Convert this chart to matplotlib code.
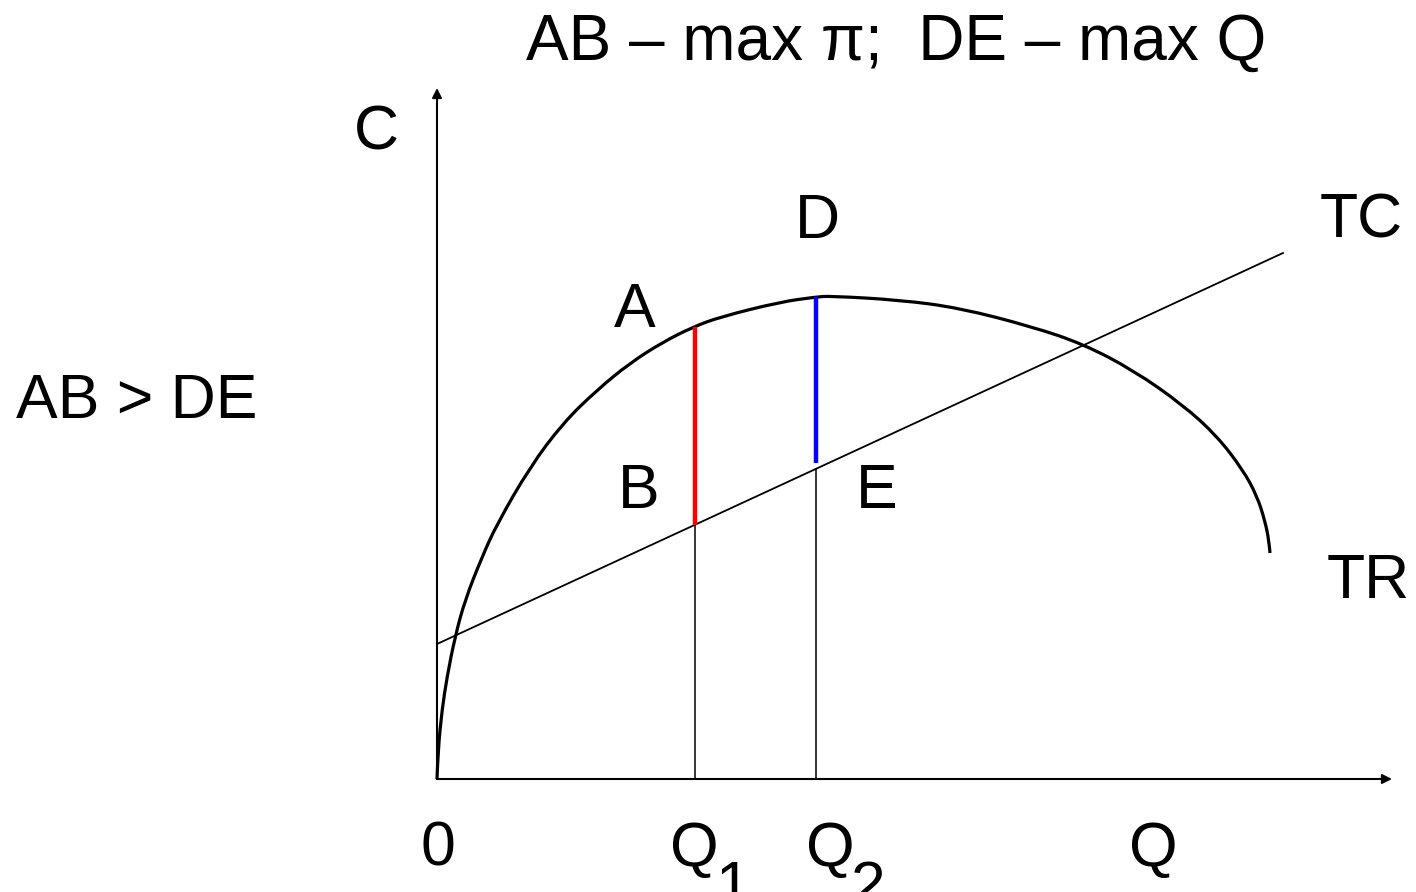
import matplotlib.pyplot as plt
from matplotlib.path import Path
from matplotlib.patches import PathPatch

plt.rcParams['font.family'] = ['Liberation Sans', 'DejaVu Sans']

# TR curve (Q, TR)
tr_q = [0, 1, 5, 10, 18, 28, 45, 60, 93, 126, 160, 193, 226, 256, 283, 343, 379, 393,
        463, 523, 596, 646, 696, 746, 780, 806, 820, 828, 832, 833]
tr_c = [0, 28, 69, 102, 142, 179, 222, 255, 312, 356, 389, 416, 437, 452, 462, 477, 482, 483,
        479, 471, 452, 435, 409, 374, 343, 309, 283, 258, 238, 226]

# TC straight line
tc_q = [0, 846]
tc_c = [135, 526]

q1, q2 = 258, 379
a_val, b_val = 452, 254      # AB segment at Q1
d_val, e_val = 482, 316      # DE segment at Q2
tc_q2 = 310

fig = plt.figure(figsize=(14.16, 8.92), dpi=100)
ax = fig.add_axes([0, 0, 1, 1])
ax.set_xlim(-437, 979)
ax.set_ylim(-113, 779)
ax.axis('off')

# axes with arrows
ax.annotate('', xy=(0, 691), xytext=(0, 0),
            arrowprops=dict(arrowstyle='-|>', color='black', lw=1.5, mutation_scale=14,
                            shrinkA=0, shrinkB=0))
ax.annotate('', xy=(955, 0), xytext=(0, 0),
            arrowprops=dict(arrowstyle='-|>', color='black', lw=1.5, mutation_scale=14,
                            shrinkA=0, shrinkB=0))

ax.plot(tc_q, tc_c, color='black', lw=1.3)

# smooth TR through the read points (quadratic segments between midpoints)
pts = list(zip(tr_q, tr_c))
verts = [pts[0]]
codes = [Path.MOVETO]
for i in range(1, len(pts) - 2):
    mid = ((pts[i][0] + pts[i + 1][0]) / 2, (pts[i][1] + pts[i + 1][1]) / 2)
    verts += [pts[i], mid]
    codes += [Path.CURVE3, Path.CURVE3]
verts += [pts[-2], pts[-1]]
codes += [Path.CURVE3, Path.CURVE3]
ax.add_patch(PathPatch(Path(verts, codes), facecolor='none', edgecolor='black', lw=2.3,
                       capstyle='butt'))

# drop lines
ax.plot([q1, q1], [0, b_val], color='black', lw=1.1)
ax.plot([q2, q2], [0, tc_q2], color='black', lw=1.1)

ax.plot([q1, q1], [b_val, a_val], color='red', lw=3.2, solid_capstyle='butt')
ax.plot([q2, q2], [e_val, d_val], color='blue', lw=3.2, solid_capstyle='butt')

fs = 45
def lab(x, y, s, size=fs):
    ax.text(x, y, s, fontsize=size, ha='center', va='baseline')

lab(459, 719, 'AB – max π;  DE – max Q', 46)
lab(-61, 629, 'C')
lab(380, 541, 'D')
lab(924, 541, 'TC')
lab(198, 452, 'A')
lab(-300, 361, 'AB > DE')
lab(202, 271, 'B')
lab(440, 271, 'E')
lab(931, 181, 'TR')
lab(1, -87, '0')
lab(257, -87, 'Q')
lab(296, -126, '1')
lab(393, -87, 'Q')
lab(431, -126, '2')
lab(716, -87, 'Q')

fig.savefig('out.png', dpi=100)
